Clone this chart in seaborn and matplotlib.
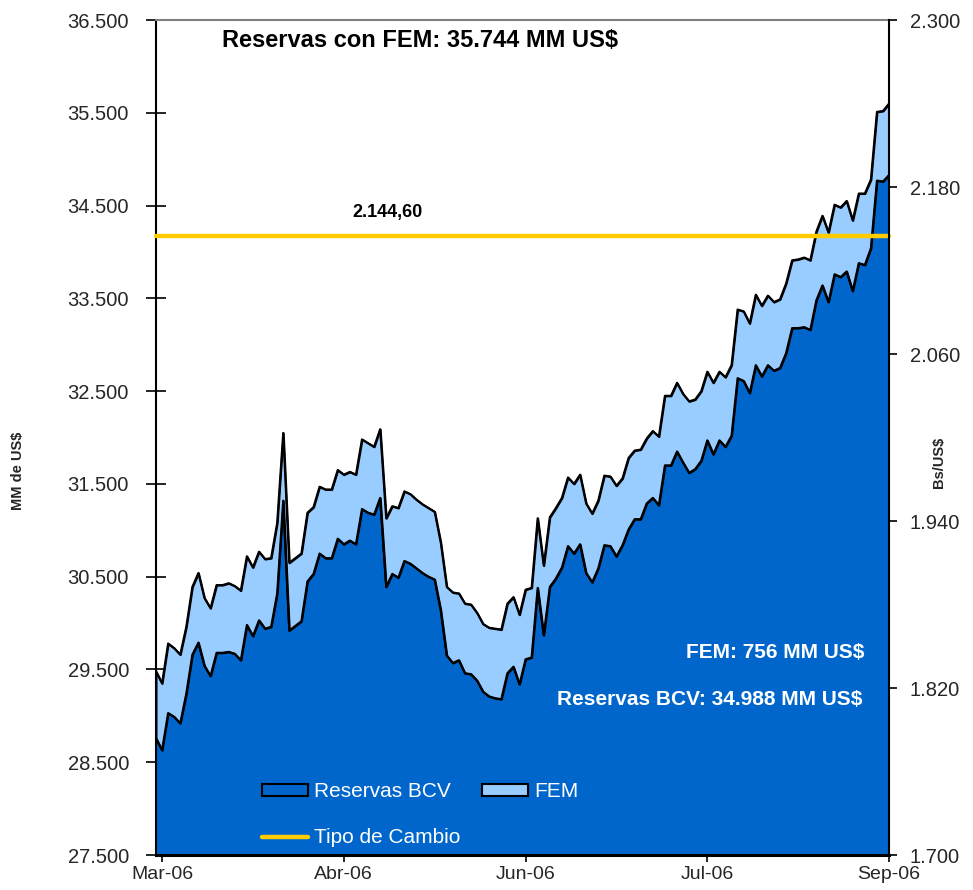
import numpy as np
import pandas as pd
import seaborn as sns
import matplotlib.pyplot as plt
from matplotlib.ticker import FuncFormatter

# reservas internacionales, MM US$ (lectura diaria)
reservas_bcv = [28760, 28630, 29030, 28990, 28920, 29240, 29660, 29790, 29540, 29430,
                29680, 29680, 29690, 29670, 29600, 29980, 29860, 30030, 29940, 29960,
                30320, 31320, 29920, 29970, 30020, 30450, 30530, 30750, 30700, 30700,
                30910, 30850, 30890, 30850, 31230, 31190, 31170, 31350, 30390, 30530,
                30490, 30670, 30640, 30590, 30540, 30500, 30470, 30140, 29650, 29570,
                29600, 29460, 29450, 29380, 29260, 29210, 29190, 29180, 29460, 29530,
                29340, 29610, 29630, 30380, 29870, 30390, 30480, 30600, 30830, 30750,
                30850, 30540, 30440, 30590, 30840, 30830, 30720, 30840, 31010, 31120,
                31120, 31290, 31350, 31270, 31700, 31700, 31850, 31730, 31620, 31660,
                31750, 31970, 31820, 31970, 31900, 32020, 32640, 32610, 32480, 32780,
                32660, 32780, 32720, 32750, 32910, 33180, 33180, 33190, 33160, 33480,
                33640, 33460, 33760, 33730, 33790, 33580, 33880, 33860, 34040, 34770,
                34760, 34830]
reservas_total = [29480, 29350, 29780, 29730, 29660, 29960, 30390, 30540, 30270, 30160,
                  30410, 30410, 30430, 30400, 30350, 30720, 30600, 30770, 30690, 30700,
                  31080, 32050, 30650, 30700, 30750, 31190, 31250, 31470, 31440, 31440,
                  31650, 31600, 31630, 31600, 31980, 31940, 31900, 32090, 31130, 31260,
                  31240, 31420, 31390, 31330, 31280, 31240, 31200, 30870, 30390, 30330,
                  30320, 30210, 30200, 30110, 29990, 29950, 29940, 29930, 30210, 30280,
                  30090, 30360, 30380, 31130, 30620, 31140, 31240, 31350, 31570, 31500,
                  31600, 31290, 31180, 31320, 31590, 31580, 31480, 31560, 31780, 31860,
                  31870, 31990, 32070, 32010, 32450, 32450, 32590, 32470, 32390, 32410,
                  32500, 32710, 32590, 32710, 32650, 32780, 33380, 33360, 33230, 33540,
                  33420, 33530, 33460, 33490, 33660, 33910, 33920, 33940, 33910, 34220,
                  34390, 34210, 34510, 34480, 34550, 34340, 34630, 34630, 34780, 35510,
                  35520, 35600]
tipo_cambio = 2144.60

tick_pos = [1, 31, 61, 91, 121]
tick_labels = ["Mar-06", "Abr-06", "Jun-06", "Jul-06", "Sep-06"]
ticks_izq = [27500, 28500, 29500, 30500, 31500, 32500, 33500, 34500, 35500, 36500]
ticks_der = [1700, 1820, 1940, 2060, 2180, 2300]

df = pd.DataFrame({"dia": np.arange(len(reservas_bcv)),
                   "bcv": reservas_bcv, "total": reservas_total})

sns.set_style("white")
plt.rcParams["font.family"] = ["Liberation Sans", "DejaVu Sans"]

azul = "#0066CC"
celeste = "#99CCFF"
amarillo = "#FFCC00"

fig = plt.figure(figsize=(9.73, 8.9), dpi=100)
ax = fig.add_axes([0.1603, 0.0393, 0.7534, 0.9382])

f_bcv = ax.fill_between(df["dia"], 0, df["bcv"], color=azul, edgecolor="black",
                        linewidth=1.5)
f_fem = ax.fill_between(df["dia"], df["bcv"], df["total"], color=celeste,
                        edgecolor="black", linewidth=1.5)
sns.lineplot(data=df, x="dia", y="bcv", color="black", linewidth=1.5, ax=ax)
sns.lineplot(data=df, x="dia", y="total", color="black", linewidth=1.5, ax=ax)
if ax.get_legend() is not None:
    ax.get_legend().remove()

ax.set_xlim(0, 121)
ax.set_ylim(27500, 36500)
ax.set_yticks(ticks_izq)
miles = FuncFormatter(lambda v, p: f"{v:,.0f}".replace(",", "."))
ax.yaxis.set_major_formatter(miles)
ax.set_xticks(tick_pos)
ax.set_xticklabels(tick_labels)
ax.set_xlabel("")
ax.set_ylabel("MM de US$", fontsize=10.5, fontweight="bold")
ax.yaxis.set_label_coords(-0.178, 0.46)

ax.tick_params(axis="y", direction="inout", length=15, width=1.2, color="black",
               labelsize=14.5, pad=12, left=True)
ax.tick_params(axis="x", direction="out", length=5, width=1.2, color="black",
               labelsize=14, pad=3, bottom=True)

ax2 = ax.twinx()
linea = ax2.axhline(tipo_cambio, color=amarillo, linewidth=3.2, clip_on=False)
ax2.set_ylim(1700, 2300)
ax2.set_yticks(ticks_der)
ax2.yaxis.set_major_formatter(miles)
ax2.set_ylabel("Bs/US$", fontsize=10.5, fontweight="bold")
ax2.yaxis.set_label_coords(1.058, 0.47)
ax2.tick_params(axis="y", direction="out", length=6, width=1.2, color="black",
                labelsize=14.5, pad=9, right=True)

for s in ["top", "left", "bottom"]:
    ax2.spines[s].set_visible(False)
ax.spines["right"].set_visible(False)
ax.spines["top"].set_color("#808080")
ax.spines["top"].set_linewidth(1.5)
ax.spines["left"].set_color("black")
ax.spines["left"].set_linewidth(1.5)
ax.spines["bottom"].set_color("black")
ax.spines["bottom"].set_linewidth(2.2)
ax2.spines["right"].set_color("black")
ax2.spines["right"].set_linewidth(1.5)

# textos
ax2.text(0.09, 0.975, "Reservas con FEM: 35.744 MM US$", transform=ax.transAxes,
         ha="left", va="center", fontsize=17, fontweight="bold", color="black")
ax2.text(0.3165, 0.770, "2.144,60", transform=ax.transAxes,
         ha="center", va="center", fontsize=13, fontweight="bold", color="black")
ax2.text(0.967, 0.243, "FEM: 756 MM US$", transform=ax.transAxes,
         ha="right", va="center", fontsize=15, fontweight="bold", color="white")
ax2.text(0.963, 0.186, "Reservas BCV: 34.988 MM US$", transform=ax.transAxes,
         ha="right", va="center", fontsize=15, fontweight="bold", color="white")

leg = ax2.legend([f_bcv, linea, f_fem], ["Reservas BCV", "Tipo de Cambio", "FEM"],
                 ncol=2, loc="upper left", bbox_to_anchor=(0.1446, 0.087),
                 bbox_transform=ax.transAxes, frameon=False, fontsize=15,
                 borderpad=0, borderaxespad=0, handlelength=2.2, handleheight=0.55,
                 handletextpad=0.3, columnspacing=1.05, labelspacing=1.3)
for t in leg.get_texts():
    t.set_color("white")

fig.savefig("out.png", dpi=100)
